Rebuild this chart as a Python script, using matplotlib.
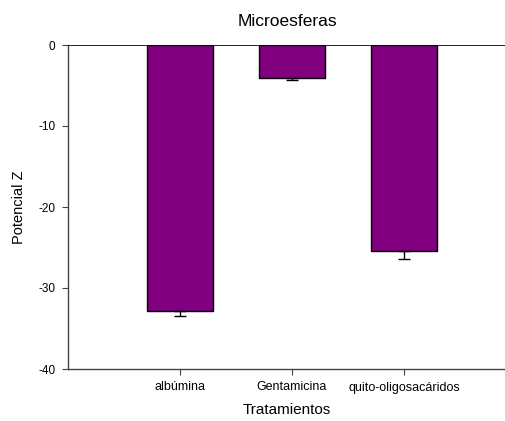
import matplotlib
matplotlib.use("Agg")
import matplotlib.pyplot as plt

categories = ["albúmina", "Gentamicina", "quito-oligosacáridos"]
values = [-32.8, -4.1, -25.4]
errors = [0.7, 0.25, 1.0]
yticks = [0, -10, -20, -30, -40]

plt.rcParams['font.family'] = ['Liberation Sans', 'DejaVu Sans']

fig = plt.figure(figsize=(5.06, 4.21), dpi=100)
ax = fig.add_axes([68/506, 52/421, (506-68)/506, (369-45)/421])

x = [1, 2, 3]
ax.bar(x, values, width=0.59, color="#800080", edgecolor="black", linewidth=1.0, zorder=2)
ax.errorbar(x, values, yerr=[errors, [0]*3], fmt="none", ecolor="black",
            elinewidth=1.0, capsize=4, capthick=1.0, zorder=3)
ax.axhline(0, color="black", linewidth=1.2, zorder=4)

ax.set_xlim(0, 3.91)
ax.set_ylim(-40, 0)
ax.set_xticks(x)
ax.set_xticklabels(categories, fontsize=9)
ax.set_yticks(yticks)
ax.set_yticklabels([str(t) for t in yticks], fontsize=8.5)
ax.tick_params(axis="both", direction="out", length=4, width=0.8, color="#444444", pad=5)

for s in ["top", "right"]:
    ax.spines[s].set_visible(False)
for s in ["left", "bottom"]:
    ax.spines[s].set_color("#444444")
    ax.spines[s].set_linewidth(1.0)

ax.set_xlabel("Tratamientos", fontsize=11, labelpad=7)
ax.set_ylabel("Potencial Z", fontsize=10.5, labelpad=9)
ax.set_title("Microesferas", fontsize=12.5, pad=14)

fig.savefig("out.png", dpi=100)
